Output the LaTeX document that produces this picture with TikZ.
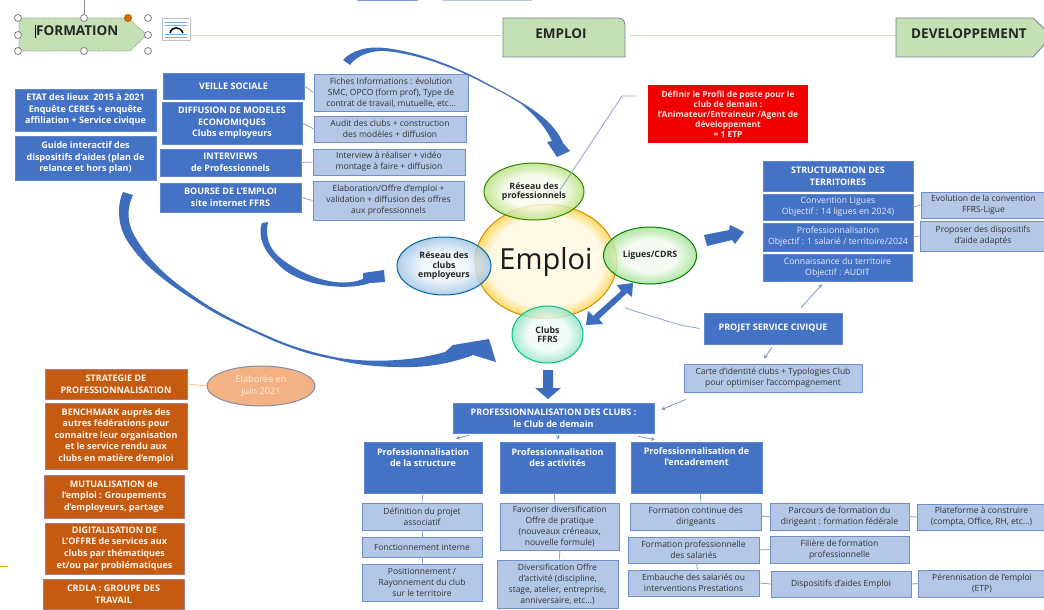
\documentclass[tikz,border=0pt]{standalone}
\usepackage{fontspec}
\setmainfont{Open Sans}
\usetikzlibrary{arrows.meta,shapes.geometric}
\definecolor{bluebox}{HTML}{4472C4}
\definecolor{lightbox}{HTML}{B4C7E7}
\definecolor{lightedge}{HTML}{6F8FC9}
\definecolor{orangebox}{HTML}{C55A11}
\definecolor{greenbox}{HTML}{C5E0B4}
\definecolor{greenedge}{HTML}{6B8A8E}
\definecolor{swoosh}{HTML}{3E6DBE}
\definecolor{wire}{HTML}{8FA3C8}
\definecolor{gline}{HTML}{C9DDBB}
\definecolor{empa}{HTML}{FFF9E6}\definecolor{empb}{HTML}{FFD966}
\definecolor{pra}{HTML}{F6FBEC}\definecolor{prb}{HTML}{B5DF7A}
\definecolor{cla}{HTML}{EEF4FA}\definecolor{clb}{HTML}{9DC3E6}
\definecolor{lia}{HTML}{F3FBF0}\definecolor{lib}{HTML}{A0E090}
\definecolor{cfa}{HTML}{F0FBF6}\definecolor{cfb}{HTML}{8FE3C8}
\pgfdeclareradialshading{shemp}{\pgfpoint{0bp}{0bp}}{color(0bp)=(empa);color(20bp)=(empa);color(25bp)=(empb);color(50bp)=(empb)}
\pgfdeclareradialshading{shpr}{\pgfpoint{0bp}{0bp}}{color(0bp)=(pra);color(14bp)=(pra);color(25bp)=(prb);color(50bp)=(prb)}
\pgfdeclareradialshading{shcl}{\pgfpoint{0bp}{0bp}}{color(0bp)=(cla);color(12bp)=(cla);color(25bp)=(clb);color(50bp)=(clb)}
\pgfdeclareradialshading{shli}{\pgfpoint{0bp}{0bp}}{color(0bp)=(lia);color(14bp)=(lia);color(25bp)=(lib);color(50bp)=(lib)}
\pgfdeclareradialshading{shcf}{\pgfpoint{0bp}{0bp}}{color(0bp)=(cfa);color(14bp)=(cfa);color(25bp)=(cfb);color(50bp)=(cfb)}
\newcommand{\bx}[7]{%
  \pgfmathsetmacro\cxx{(#3+#5)/2}\pgfmathsetmacro\cyy{(#4+#6)/2}%
  \pgfmathsetmacro\wdd{#5-#3}\pgfmathsetmacro\htt{#6-#4}%
  \node[#1,minimum width=\wdd pt,minimum height=\htt pt] (#2) at (\cxx,\cyy) {#7};}
\tikzset{
  basebox/.style={rectangle,inner sep=0pt,align=center,line width=.7pt},
  bluebx/.style={basebox,fill=bluebox,draw=bluebox!85!white,text=white,font=\fontsize{9}{11.6}\selectfont\bfseries},
  bluereg/.style={basebox,fill=bluebox,draw=bluebox!85!white,text=white!92!blue,font=\fontsize{8.7}{11}\selectfont},
  lightbx/.style={basebox,fill=lightbox,draw=lightedge,line width=.9pt,text=black!80,font=\fontsize{8.5}{11}\selectfont},
  orangebx/.style={basebox,fill=orangebox,draw=orangebox!70!blue!70!white,text=white!92!orange,font=\fontsize{9}{11.6}\selectfont\bfseries},
  wirel/.style={draw=wire,line width=.8pt},
  wirea/.style={draw=wire!70!bluebox,line width=.8pt,-{Stealth[length=4pt,width=4pt]}},
  ovalbase/.style={ellipse,inner sep=0pt,align=center,line width=1pt,text=black!85,font=\fontsize{8.8}{9.6}\selectfont\bfseries,fill opacity=.8,text opacity=1},
  handle/.style={circle,draw=black!50,fill=white,line width=.8pt,minimum size=7pt,inner sep=0pt},
  head/.style={font=\fontsize{13.5}{14}\selectfont\bfseries,text=black!85},
  fatarrow/.style={fill=swoosh,draw=none}
}
\begin{document}
\begin{tikzpicture}[x=1pt,y=-1pt]
\useasboundingbox (0,0) rectangle (1044,610);
\fill[white] (0,0) rectangle (1044,610);
% top fragments
\fill[bluebox!70!white] (357,0) rectangle (418,1);
\fill[bluebox!40!white] (442,0) rectangle (532,1);
\fill[orange!80!yellow] (0,565.5) rectangle (8,567);
% headline lines
\coordinate (iconr) at (190,35);
\coordinate (empl) at (501,35);
\coordinate (empr) at (630,35);
\coordinate (devl) at (896,35);
\draw[gline,line width=.8pt] (iconr) -- (empl);
\draw[gline,line width=.8pt] (empr) -- (devl);
% FORMATION shape
\draw[greenedge,densely dotted,fill=greenbox,line width=.7pt] (21,18) -- (128,18) -- (147,35) -- (130,51) -- (21,51) -- (19,48) -- (19,21) -- cycle;
\coordinate (htop) at (84,0);
\node[handle] (h2) at (84,18) {};
\draw[black!45,line width=.8pt] (htop) -- (h2);
\node[handle] at (18,18) {};
\node[handle,fill=orange!80!black!90!yellow,draw=orange!70!black] at (128,18) {};
\node[handle] at (148,18) {};
\node[handle] at (18,35) {};
\node[handle] at (148,35) {};
\node[handle] at (18,51) {};
\node[handle] at (84,51) {};
\node[handle] at (148,51) {};
\node[head,anchor=west,inner sep=0pt] (fo) at (36,31) {FORMATION};
\draw[black,line width=.7pt] (35,25) -- (35,38);
% icon
\draw[black!25,fill=white,line width=.7pt] (162,18) rectangle (190,40);
\foreach \yy in {22,25,34,37}{\draw[blue!50!cyan!60,line width=.6pt] (165,\yy) -- (187,\yy);}
\draw[black,line width=1.5pt] (170,33) .. controls (172,26) and (180,26) .. (183,33);
% EMPLOI
\draw[greenedge,fill=greenbox,line width=.9pt] (503,18) -- (618,18) .. controls (622,18) and (625,21) .. (625,25) -- (625,57) -- (503,57) -- cycle;
\node[head] (emp) at (561,33.5) {EMPLOI};
% DEVELOPPEMENT
\draw[greenedge,fill=greenbox,line width=.9pt] (896,18) -- (1033,18) -- (1052,36) -- (1033,57) -- (896,57) -- cycle;
\node[head] (dev) at (969,33.5) {DEVELOPPEMENT};
% left blue
\bx{bluebx}{etat}{15}{89}{156}{131}{ETAT des lieux~ 2015 à 2021\\Enquête CERES + enquête\\affiliation + Service civique}
\bx{bluebx}{guide}{15}{136}{156}{180}{Guide interactif des\\dispositifs d’aides (plan de\\relance et hors plan)}
\bx{bluebx}{veille}{163}{73}{304}{99}{VEILLE SOCIALE}
\bx{bluebx}{diff}{162}{102}{302}{144}{DIFFUSION DE MODELES\\ECONOMIQUES\\Clubs employeurs}
\bx{bluebx}{inter}{160}{149}{301}{176}{INTERVIEWS\\de Professionnels}
\bx{bluebx}{bourse}{160}{183}{301}{212}{BOURSE DE L’EMPLOI\\site internet FFRS}
\bx{lightbx}{fiches}{314}{74}{468}{111}{Fiches Informations : évolution\\SMC, OPCO (form prof), Type de\\contrat de travail, mutuelle, etc…}
\bx{lightbx}{audit}{314}{116}{466}{142}{Audit des clubs + construction\\des modèles + diffusion}
\bx{lightbx}{intv}{313}{149}{465}{175}{Interview à réaliser + vidéo\\montage à faire + diffusion}
\bx{lightbx}{elab}{313}{181}{464}{220}{Elaboration/Offre d’emploi +\\validation + diffusion des offres\\aux professionnels}
\draw[wirel] (veille.east) -- (fiches.west);
\draw[wirel] (diff.east) -- (audit.west);
\draw[wirel] (inter.east) -- (intv.west);
\draw[wirel] (bourse.east) -- (elab.west);
% red box
\bx{basebox,fill=red!95!black,text=white!90!red,font=\fontsize{8.4}{10}\selectfont\bfseries}{rouge}{648}{85}{808}{143}{Définir le Profil de poste pour le\\club de demain :\\l’Animateur/Entraineur /Agent de\\développement\\= 1 ETP}
% structuration
\bx{bluebx}{stru}{763}{161}{913}{191}{STRUCTURATION DES\\TERRITOIRES}
\bx{bluereg}{conv}{763}{194}{913}{220}{Convention Ligues\\Objectif : 14 ligues en 2024)}
\bx{bluereg}{prof}{763}{223}{913}{251}{Professionnalisation\\Objectif : 1 salarié / territoire/2024}
\bx{bluereg}{conn}{763}{254}{912}{281}{Connaissance du territoire\\Objectif : AUDIT}
\bx{lightbx}{evol}{921}{192}{1046}{218}{Evolution de la convention\\FFRS-Ligue}
\bx{lightbx}{prop}{920}{221}{1046}{251}{Proposer des dispositifs\\d’aide adaptés}
\draw[wirel] (conv.east) -- (evol.west);
\draw[wirel] (prof.east) -- (prop.west);
% central ovals
\node[ellipse,minimum width=142pt,minimum height=114pt,inner sep=0pt,draw=black!25!orange!70!yellow,line width=1pt,shade,shading=shemp,font=\fontsize{29}{32}\selectfont,text=black!90] (emploi) at (546,261.5) {Emploi};
\node[ovalbase,minimum width=100pt,minimum height=57pt,draw=green!40!black!80!yellow,shade,shading=shpr] (respro) at (534,191.5) {Réseau des\\professionnels};
\node[ovalbase,minimum width=94pt,minimum height=58pt,draw=black!60!blue!60!cyan,shade,shading=shcl] (resclub) at (444,266) {Réseau des\\clubs\\employeurs};
\node[ovalbase,minimum width=93pt,minimum height=57pt,draw=green!50!black,shade,shading=shli] (ligues) at (650,255.5) {Ligues/CDRS};
\node[ovalbase,minimum width=71pt,minimum height=57pt,draw=black!50!green!50!cyan,shade,shading=shcf] (clubs) at (547.5,334.5) {Clubs\\FFRS};
% callout red
\coordinate (rc1) at (635,96);
\coordinate (rc2) at (622,96);
\draw[wirel] (rc1) -- (rc2) -- ([xshift=26pt,yshift=1.5pt]respro.center);
% projet
\bx{bluebx}{projet}{704}{313}{842}{344}{PROJET SERVICE CIVIQUE}
\bx{lightbx}{carte}{684}{364}{862}{392}{Carte d’identité clubs + Typologies Club\\pour optimiser l’accompagnement}
\coordinate (pc1) at (625,308);
\coordinate (pc2) at (680,325);
\draw[wirel] (pc1) -- (pc2) -- ([xshift=-4pt]projet.west);
\draw[wirea] ([xshift=28pt,yshift=5pt]projet.north) -- ([xshift=-15.5pt,yshift=-3pt]conn.south);
\draw[wirea] ([xshift=-1pt,yshift=-3pt]projet.south) -- ([xshift=-9pt,yshift=5pt]carte.north);
% bottom
\bx{bluebx}{pclubs}{453}{403}{654}{433}{PROFESSIONNALISATION DES CLUBS :\\le Club de demain}
\draw[wirea] ([xshift=2pt,yshift=-7pt]carte.south west) -- ([xshift=7pt,yshift=-7pt]pclubs.north east);
\bx{bluebx}{pstruct}{364}{442}{482}{493}{Professionnalisation\\de la structure\\[8pt]}
\bx{bluebx}{pact}{500}{442}{615}{493}{Professionnalisation\\des activités\\[8pt]}
\bx{bluebx}{penc}{631}{442}{762}{493}{Professionnalisation de\\l’encadrement\\[10pt]}
\draw[wirea] ([xshift=16pt,yshift=-2pt]pclubs.south west) -- ([xshift=33pt,yshift=3pt]pstruct.north);
\draw[wirea] ([xshift=4.5pt,yshift=-2pt]pclubs.south) -- ([xshift=0.5pt,yshift=2pt]pact.north);
\draw[wirea] ([xshift=-16pt,yshift=-3pt]pclubs.south east) -- ([xshift=-41.5pt,yshift=2pt]penc.north);
\bx{lightbx}{defi}{362}{503}{482}{530}{Définition du projet\\associatif}
\bx{lightbx}{fonc}{362}{537}{482}{557}{Fonctionnement interne}
\bx{lightbx}{posi}{362}{564}{482}{601}{Positionnement /\\Rayonnement du club\\sur le territoire}
\bx{lightbx}{favo}{500}{503}{619.5}{550}{Favoriser diversification\\Offre de pratique\\(nouveaux créneaux,\\nouvelle formule)}
\bx{lightbx}{dive}{497}{560}{618}{608}{Diversification Offre\\d’activité (discipline,\\stage, atelier, entreprise,\\anniversaire, etc…)}
\bx{lightbx}{foco}{630}{503}{761.5}{530}{Formation continue des\\dirigeants}
\bx{lightbx}{fopr}{628}{537}{759}{563}{Formation professionnelle\\des salariés}
\bx{lightbx}{emba}{628}{570}{759}{596}{Embauche des salariés ou\\interventions Prestations}
\bx{lightbx}{parc}{770}{503}{909}{530}{Parcours de formation du\\dirigeant : formation fédérale}
\bx{lightbx}{fili}{770}{536}{909}{563}{Filière de formation\\professionnelle}
\bx{lightbx}{disp}{771}{571}{911}{597}{Dispositifs d’aides Emploi}
\bx{lightbx}{plat}{917}{504}{1046}{530}{Plateforme à construire\\(compta, Office, RH, etc…)}
\bx{lightbx}{pere}{918}{570}{1046}{597}{Pérennisation de l’emploi\\(ETP)}
\draw[wirel] (pstruct.south) -- (defi.north);
\draw[wirel] (defi.south) -- (fonc.north);
\draw[wirel] (fonc.south) -- (posi.north);
\draw[wirel] ([xshift=-3pt]pact.south) -- ([xshift=-5pt]favo.north);
\draw[wirel] ([xshift=0pt]favo.south) -- ([xshift=2pt]dive.north);
\draw[wirel] ([xshift=4pt]penc.south) -- ([xshift=5pt]foco.north);
\draw[wirel] ([xshift=3pt]fopr.south) -- ([xshift=4pt]emba.north);
\draw[wirel] (foco.east) -- (parc.west);
\draw[wirel] (parc.east) -- (plat.west);
\draw[wirel] (fopr.east) -- (fili.west);
\draw[wirel] (emba.east) -- (disp.west);
\draw[wirel] (disp.east) -- (pere.west);
% orange
\bx{orangebx}{strat}{45}{369}{187}{399}{STRATEGIE DE\\PROFESSIONNALISATION}
\bx{orangebx}{bench}{45}{403}{187}{469}{BENCHMARK auprès des\\autres fédérations pour\\connaitre leur organisation\\et le service rendu aux\\clubs en matière d’emploi}
\bx{orangebx}{mutu}{44}{475}{184}{518}{MUTUALISATION de\\l’emploi : Groupements\\d’employeurs, partage}
\bx{orangebx}{digi}{45}{523}{184}{574}{DIGITALISATION DE\\L’OFFRE de services aux\\clubs par thématiques\\et/ou par problématiques}
\bx{orangebx}{crdl}{43}{579}{184}{609}{CRDLA : GROUPE DES\\TRAVAIL}
\definecolor{elabf}{HTML}{F4B183}\definecolor{elabe}{HTML}{7F8FA9}
\node[ellipse,minimum width=108pt,minimum height=40pt,inner sep=0pt,align=center,fill=elabf,draw=elabe,line width=1pt,text=white!85!orange,font=\fontsize{9.2}{11.5}\selectfont] (elabo) at (261,386) {Elaborée en\\juin 2021};
\draw[draw=orange!45!white,line width=.9pt] (strat.east) -- (elabo.west);
% fat arrows
\fill[fatarrow] (343,60) .. controls (352,50) and (368,46) .. (385,48) .. controls (420,52) and (460,68) .. (490,85) .. controls (515,98) and (540,112) .. (552,126) .. controls (558,133) and (561,138) .. (563,143) -- (570,151) -- (557,157) -- (547,142) -- (552,141) .. controls (546,128) and (535,115) .. (520,103) .. controls (510,97) and (500,91) .. (489,86) .. controls (460,70) and (420,54) .. (385,51) .. controls (370,50) and (355,57) .. (350,65) -- cycle;
\fill[fatarrow] (123,192) -- (133,195) .. controls (127,208) and (127,220) .. (133,233) .. controls (150,265) and (175,283) .. (201,301) .. controls (225,317) and (250,328) .. (268,336) .. controls (290,346) and (310,352) .. (334,357) .. controls (365,363) and (410,362) .. (445,352) -- (453,345) -- (489,339) -- (496,362) -- (473,355) .. controls (455,362) and (430,368) .. (400,367) .. controls (385,367) and (360,366) .. (333,359) .. controls (310,355) and (290,348) .. (267,338) .. controls (250,330) and (225,320) .. (200,304) .. controls (170,285) and (140,265) .. (124,235) .. controls (118,222) and (117,205) .. (123,192) -- cycle;
\fill[fatarrow] (262,223) -- (268,222) .. controls (264,240) and (272,252) .. (283,260) .. controls (300,273) and (335,290) .. (363,279) -- (363,273) -- (384,270) -- (385,282) -- (370,283) .. controls (345,292) and (295,285) .. (277,263) .. controls (265,252) and (257,238) .. (262,223) -- cycle;
% straight fat arrows
\fill[fatarrow] (704,235) -- (729,230) -- (730,225) -- (744,232) -- (735,244) -- (732,240) -- (707,246) -- cycle;
\fill[fatarrow] (543,370) -- (553,370) -- (553,388) -- (561,388) -- (548,399) -- (535,388) -- (543,388) -- cycle;
\fill[fatarrow] (586,325) -- (588,311) -- (593,316) -- (621,291) -- (617,285) -- (633,283) -- (632,297) -- (627,293) -- (599,319) -- (603,324) -- cycle;
\end{tikzpicture}
\end{document}
